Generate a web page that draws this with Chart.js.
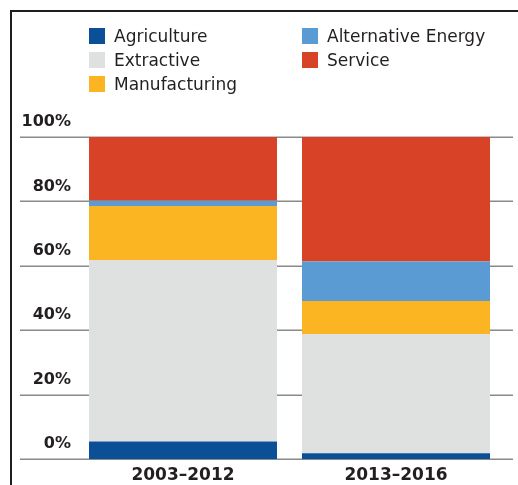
<!DOCTYPE html>
<html>
<head>
<meta charset="utf-8">
<script src="https://cdn.jsdelivr.net/npm/chart.js@4/dist/chart.umd.min.js"></script>
<style>
  html, body { margin: 0; padding: 0; background: #fff; }
  #wrap { position: relative; width: 518px; height: 485px; overflow: hidden; }
  #frame {
    position: absolute; left: 10px; top: 10px; width: 600px; height: 600px;
    border-left: 2.5px solid #1e1e1e; border-top: 2.5px solid #1e1e1e;
    box-sizing: border-box; pointer-events: none;
  }
  #legend { position: absolute; left: 0; top: 0; width: 518px; height: 110px; }
  .item {
    position: absolute; display: flex; align-items: center;
    font-family: "DejaVu Sans", sans-serif; font-size: 17px; color: #231f20;
    white-space: nowrap;
  }
  .swatch { width: 16px; height: 16px; margin-right: 9px; }
  canvas { position: absolute; left: 0; top: 0; }
</style>
</head>
<body>
<div id="wrap">
  <canvas id="chart" width="518" height="485"></canvas>
  <div id="legend"></div>
  <div id="frame"></div>
</div>
<script>
// Share of investment by sector, two periods (percent of total)
const periods = ['2003–2012', '2013–2016'];
const agriculture       = [5.4, 1.8];
const extractive        = [56.4, 37.0];
const manufacturing     = [16.8, 10.3];
const alternativeEnergy = [1.6, 12.2];
const service           = [19.8, 38.7];
const yTicks = [0, 20, 40, 60, 80, 100];

// Stacking order (bottom to top) and colours
const series = [
  { label: 'Agriculture', data: agriculture, color: '#0b4f97' },
  { label: 'Extractive', data: extractive, color: '#dfe0e0' },
  { label: 'Manufacturing', data: manufacturing, color: '#fbb522' },
  { label: 'Alternative Energy', data: alternativeEnergy, color: '#5b9bd4' },
  { label: 'Service', data: service, color: '#d84327' }
];

// Legend layout: two columns, filled row by row
const legendOrder = ['Agriculture', 'Alternative Energy', 'Extractive', 'Service', 'Manufacturing'];

const yFont = { family: '"DejaVu Sans", sans-serif', size: 16, weight: 'bold' };
const xFont = { family: '"DejaVu Sans", sans-serif', size: 17, weight: 'bold' };

// Horizontal rules behind the bars, running across the label column too
const gridRules = {
  id: 'gridRules',
  beforeDatasetsDraw(chart) {
    const y = chart.scales.y;
    const ctx = chart.ctx;
    ctx.save();
    ctx.strokeStyle = '#8a8a8a';
    ctx.lineWidth = 1.5;
    yTicks.forEach(v => {
      const py = Math.round(y.getPixelForValue(v)) + 0.25;
      ctx.beginPath();
      ctx.moveTo(20, py);
      ctx.lineTo(513, py);
      ctx.stroke();
    });
    ctx.restore();
  }
};

const chart = new Chart(document.getElementById('chart'), {
  type: 'bar',
  data: {
    labels: periods,
    datasets: series.map(s => ({
      label: s.label,
      data: s.data,
      backgroundColor: s.color,
      borderWidth: 0,
      categoryPercentage: 1,
      barPercentage: 0.8826
    }))
  },
  options: {
    responsive: false,
    animation: false,
    layout: { padding: { left: 20, top: 137, right: 15.5, bottom: 0 } },
    plugins: { legend: { display: false }, tooltip: { enabled: false } },
    scales: {
      x: {
        stacked: true,
        offset: true,
        grid: { display: false, drawTicks: false, tickLength: 0 },
        border: { display: false },
        ticks: { color: '#231f20', font: xFont, padding: 6, maxRotation: 0 },
        afterFit(scale) { scale.height = 26; }
      },
      y: {
        stacked: true,
        min: 0,
        max: 100,
        grid: { display: false, drawTicks: false, tickLength: 0 },
        border: { display: false },
        afterBuildTicks(scale) { scale.ticks = yTicks.map(v => ({ value: v })); },
        ticks: {
          color: '#231f20',
          font: yFont,
          padding: 5.5,
          labelOffset: -15,
          callback: v => v + '%'
        },
        afterFit(scale) { scale.width = 56.5; }
      }
    }
  },
  plugins: [gridRules]
});

// Build the legend from the chart's datasets
const legendEl = document.getElementById('legend');
const colX = [89, 302];
const rowY = [36, 60, 84];
legendOrder.forEach((name, i) => {
  const ds = chart.data.datasets.find(d => d.label === name);
  const item = document.createElement('div');
  item.className = 'item';
  item.style.left = colX[i % 2] + 'px';
  item.style.top = (rowY[Math.floor(i / 2)] - 10) + 'px';
  item.style.height = '20px';
  const sw = document.createElement('span');
  sw.className = 'swatch';
  sw.style.background = ds.backgroundColor;
  const tx = document.createElement('span');
  tx.textContent = ds.label;
  item.appendChild(sw);
  item.appendChild(tx);
  legendEl.appendChild(item);
});
</script>
</body>
</html>
